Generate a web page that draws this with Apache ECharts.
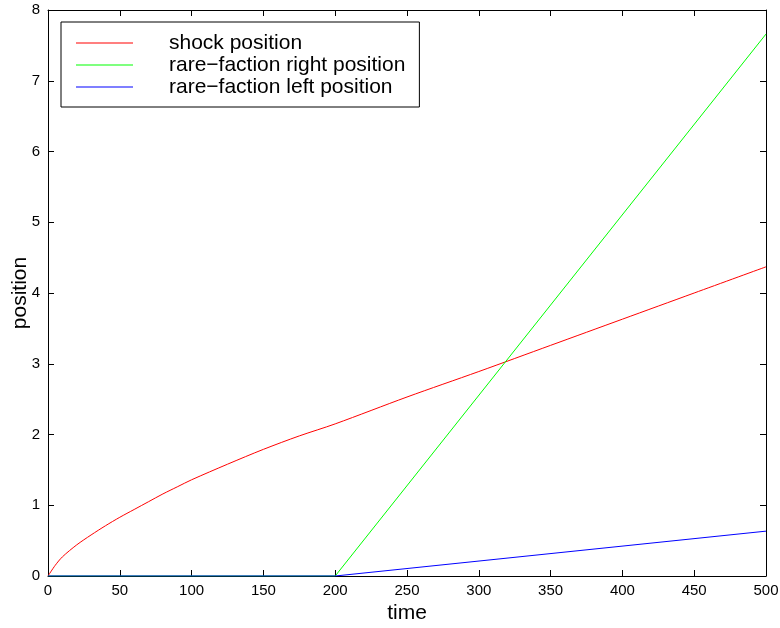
<!DOCTYPE html>
<html>
<head>
<meta charset="utf-8">
<script src="https://cdn.jsdelivr.net/npm/echarts@6/dist/echarts.min.js"></script>
<style>
  html, body { margin: 0; padding: 0; background: #fff; }
  #chart { width: 780px; height: 628px; }
</style>
</head>
<body>
<div id="chart"></div>
<script>
// shock position
const shockTime = [0, 5, 10, 20, 30, 40, 50, 60, 70, 80, 90, 100, 125, 150, 175, 200, 250, 300, 350, 400, 450, 500]
const shockPos = [0, 0.15, 0.27, 0.44, 0.58, 0.71, 0.83, 0.94, 1.05, 1.16, 1.26, 1.36, 1.58, 1.79, 1.98, 2.15, 2.53, 2.89, 3.26, 3.63, 4.0, 4.37]

// rarefaction edges: flat until t=200, then straight
const rareTime = [0, 200, 500]
const rareRightPos = [0, 0, 7.66]
const rareLeftPos = [0, 0, 0.634]

const xTicks = { min: 0, max: 500, interval: 50 }
const yTicks = { min: 0, max: 8, interval: 1 }

const font = 'Liberation Sans, Arial, Helvetica, sans-serif'

function pairs(xs, ys) {
  return xs.map((x, i) => [x, ys[i]])
}

const chart = echarts.init(document.getElementById('chart'))

const axisBase = {
  type: 'value',
  axisLine: { show: true, onZero: false, lineStyle: { color: '#000', width: 1 } },
  axisTick: { show: true, inside: true, length: 6, lineStyle: { color: '#000' } },
  splitLine: { show: false }
}

const option = {
  animation: false,
  backgroundColor: '#fff',
  grid: { left: 48, top: 10, right: 14, bottom: 52, containLabel: false, outerBoundsMode: 'none' },
  legend: {
    orient: 'vertical',
    left: 61,
    top: 22,
    padding: [10, 14, 9, 15],
    itemGap: 0,
    itemWidth: 57,
    itemHeight: 1,
    icon: 'rect',
    backgroundColor: '#fff',
    borderColor: '#000',
    borderWidth: 1,
    borderRadius: 0,
    textStyle: { fontFamily: font, fontSize: 21, color: '#000', lineHeight: 22, padding: [0, 0, 0, 31] },
    data: ['shock position', 'rare−faction right position', 'rare−faction left position']
  },
  xAxis: [
    {
      ...axisBase,
      position: 'bottom',
      min: xTicks.min, max: xTicks.max, interval: xTicks.interval,
      name: 'time',
      nameLocation: 'middle',
      nameGap: 27,
      nameMoveOverlap: false,
      nameTextStyle: { fontFamily: font, fontSize: 21, color: '#000' },
      axisLabel: { fontFamily: font, fontSize: 15, color: '#000', margin: 7 }
    },
    {
      ...axisBase,
      position: 'top',
      min: xTicks.min, max: xTicks.max, interval: xTicks.interval,
      axisLabel: { show: false }
    }
  ],
  yAxis: [
    {
      ...axisBase,
      position: 'left',
      min: yTicks.min, max: yTicks.max, interval: yTicks.interval,
      name: 'position',
      nameLocation: 'middle',
      nameRotate: 90,
      nameGap: 17,
      nameMoveOverlap: false,
      nameTextStyle: { fontFamily: font, fontSize: 21, color: '#000' },
      axisLabel: { fontFamily: font, fontSize: 15, color: '#000', margin: 8 }
    },
    {
      ...axisBase,
      position: 'right',
      min: yTicks.min, max: yTicks.max, interval: yTicks.interval,
      axisLabel: { show: false }
    }
  ],
  series: [
    {
      name: 'shock position',
      type: 'line',
      data: pairs(shockTime, shockPos),
      smooth: 0.3,
      symbol: 'none',
      lineStyle: { color: '#ff0000', width: 1 },
      itemStyle: { color: '#ff0000' }
    },
    {
      name: 'rare−faction right position',
      type: 'line',
      data: pairs(rareTime, rareRightPos),
      symbol: 'none',
      lineStyle: { color: '#00ff00', width: 1 },
      itemStyle: { color: '#00ff00' }
    },
    {
      name: 'rare−faction left position',
      type: 'line',
      data: pairs(rareTime, rareLeftPos),
      symbol: 'none',
      lineStyle: { color: '#0000ff', width: 1 },
      itemStyle: { color: '#0000ff' }
    }
  ]
}

chart.setOption(option)
</script>
</body>
</html>
